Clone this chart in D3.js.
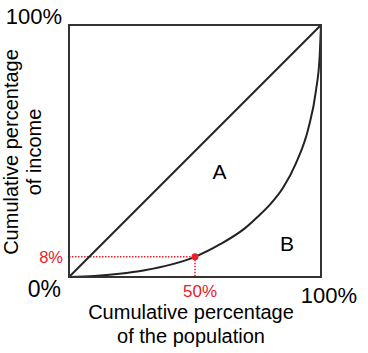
<!DOCTYPE html>
<html>
<head>
<meta charset="utf-8">
<script src="https://cdn.jsdelivr.net/npm/d3@7"></script>
<style>
  body { margin: 0; background: #fff; }
  svg text { font-family: "Liberation Sans", Arial, sans-serif; }
</style>
</head>
<body>
<div id="chart"></div>
<script>
// cumulative share of population (x) and income (y), in percent
var popShare    = [0, 10, 20, 30, 40, 50, 60, 70, 75, 80, 85, 90, 95, 98, 99.5, 100];
var incomeShare = [0, 0.4, 1.3, 2.7, 4.8, 8, 13, 19.5, 24, 29, 35.5, 45, 59, 74, 88, 100];

// the marked point
var markPop = 50, markIncome = 8;

// corner labels and region labels
var cornerLabels = ["0%", "100%", "100%"];
var regionLabels = ["A", "B"];
var yTitle = ["Cumulative percentage", "of income"];
var xTitle = ["Cumulative percentage", "of the population"];

var red = "#e8202a", ink = "#222";

var svg = d3.select("#chart").append("svg")
    .attr("width", 368)
    .attr("height", 353);

var x = d3.scaleLinear().domain([0, 100]).range([69, 321]);
var y = d3.scaleLinear().domain([0, 100]).range([277, 25]);

// red dotted guides
svg.append("line")
    .attr("x1", x(0)).attr("x2", x(markPop))
    .attr("y1", y(markIncome)).attr("y2", y(markIncome))
    .attr("stroke", red).attr("stroke-width", 1.5)
    .attr("stroke-dasharray", "1.5,1.5");
svg.append("line")
    .attr("x1", x(markPop)).attr("x2", x(markPop))
    .attr("y1", y(markIncome)).attr("y2", y(0))
    .attr("stroke", red).attr("stroke-width", 1.5)
    .attr("stroke-dasharray", "1.5,1.5");

// equality line
svg.append("line")
    .attr("x1", x(0)).attr("y1", y(0))
    .attr("x2", x(100)).attr("y2", y(100))
    .attr("stroke", ink).attr("stroke-width", 2);

// lorenz curve
var line = d3.line()
    .x(function(d, i) { return x(popShare[i]); })
    .y(function(d) { return y(d); })
    .curve(d3.curveMonotoneX);

svg.append("path")
    .attr("d", line(incomeShare))
    .attr("fill", "none")
    .attr("stroke", ink)
    .attr("stroke-width", 2);

// frame
svg.append("rect")
    .attr("x", x(0)).attr("y", y(100))
    .attr("width", x(100) - x(0))
    .attr("height", y(0) - y(100))
    .attr("fill", "none")
    .attr("stroke", "#333")
    .attr("stroke-width", 2);

// marked point
svg.append("circle")
    .attr("cx", x(markPop)).attr("cy", y(markIncome))
    .attr("r", 3.5)
    .attr("fill", red);

// corner labels
svg.append("text")
    .attr("x", x(0) - 8).attr("y", y(0) + 20)
    .attr("text-anchor", "end")
    .style("font-size", "23px")
    .text(cornerLabels[0]);
svg.append("text")
    .attr("x", x(0) - 7).attr("y", y(100) - 1)
    .attr("text-anchor", "end")
    .style("font-size", "22px")
    .text(cornerLabels[1]);
svg.append("text")
    .attr("x", x(100) + 8).attr("y", y(0) + 26)
    .attr("text-anchor", "middle")
    .style("font-size", "22px")
    .text(cornerLabels[2]);

// red value labels
svg.append("text")
    .attr("x", x(0) - 6).attr("y", y(markIncome) + 6)
    .attr("text-anchor", "end")
    .attr("fill", red)
    .style("font-size", "16.5px")
    .text(markIncome + "%");
svg.append("text")
    .attr("x", x(markPop) + 5).attr("y", y(0) + 20)
    .attr("text-anchor", "middle")
    .attr("fill", red)
    .style("font-size", "17px")
    .text(markPop + "%");

// region labels
svg.append("text")
    .attr("x", 219.5).attr("y", 179)
    .attr("text-anchor", "middle")
    .style("font-size", "21px")
    .text(regionLabels[0]);
svg.append("text")
    .attr("x", 287).attr("y", 251)
    .attr("text-anchor", "middle")
    .style("font-size", "21px")
    .text(regionLabels[1]);

// axis titles
svg.append("g")
    .attr("transform", "translate(0,152) rotate(-90)")
    .selectAll("text")
    .data(yTitle)
    .enter().append("text")
    .attr("x", 0)
    .attr("y", function(d, i) { return 18 + i * 23; })
    .attr("text-anchor", "middle")
    .style("font-size", "20px")
    .text(function(d) { return d; });

svg.selectAll(".xtitle")
    .data(xTitle)
    .enter().append("text")
    .attr("class", "xtitle")
    .attr("x", 191)
    .attr("y", function(d, i) { return 319 + i * 24; })
    .attr("text-anchor", "middle")
    .style("font-size", "20px")
    .text(function(d) { return d; });
</script>
</body>
</html>
